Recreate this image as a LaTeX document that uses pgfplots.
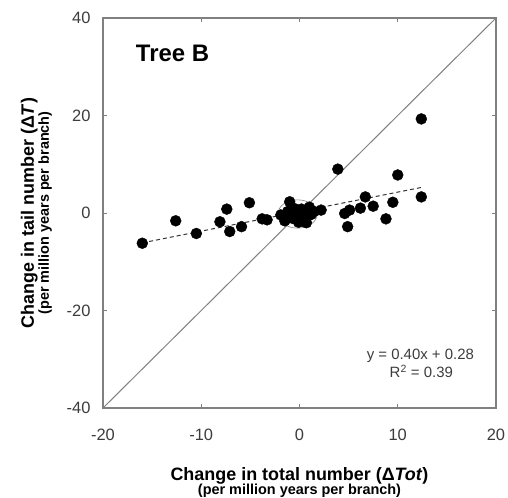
\documentclass[border=0pt]{standalone}
\usepackage{fontspec}
\setmainfont{Liberation Sans}
\usepackage{pgfplots}
\pgfplotsset{compat=1.18}
\definecolor{axgray}{RGB}{128,128,128}
\definecolor{txtgray}{RGB}{60,60,60}

\begin{document}
\begin{tikzpicture}
\useasboundingbox (-103bp,-90bp) rectangle (405bp,408bp);
\begin{axis}[
  scale only axis, width=393bp, height=390bp,
  xmin=-20, xmax=20, ymin=-40, ymax=40,
  xtick={-20,-10,0,10,20}, ytick={-40,-20,0,20,40},
  tick align=inside, major tick length=4bp,
  axis line style={axgray, line width=1.3pt},
  tick style={axgray, line width=0.8pt},
  /pgf/number format/assume math mode=true,
  ticklabel style={font=\fontsize{16.5}{16.5}\selectfont, text=txtgray},
  xticklabel style={anchor=base, yshift=-32bp},
  yticklabel style={xshift=-9bp},
  clip=false,
]
\addplot[axgray, line width=1pt] coordinates {(-20,-40) (20,40)};
\addplot[black!80, line width=1pt, dash pattern=on 4bp off 3bp] coordinates {(-16,-6.12) (12.5,5.28)};
\addplot[only marks, mark=*, mark size=5.5pt, mark options={fill=black, draw=black}] coordinates {
(-16.0,-6.2) (-12.6,-1.6) (-10.5,-4.2) (-8.1,-1.8) (-7.4,0.8) (-7.1,-3.8)
(-5.9,-2.8) (-5.1,2.1) (-3.8,-1.2) (-3.3,-1.4) (-1.0,2.3)
(-1.9,-0.4) (-1.5,-1.6) (-1.2,0.3) (-0.7,-1.1) (-0.4,-0.3) (-0.1,-1.9)
(0.2,0.8) (0.4,-0.6) (0.7,-2.0) (0.9,0.5) (1.2,-0.3) (1.5,0.3) (-0.5,0.9)
(0.1,-1.0) (1.0,1.2)
(2.2,0.6) (3.9,9.0) (4.6,-0.1) (4.9,-2.8) (5.1,0.6) (6.2,1.0) (6.7,3.3)
(7.5,1.4) (8.8,-1.2) (9.5,2.2) (10.0,7.8) (12.4,3.3) (12.4,19.3)
};
\draw[axgray, line width=0.6pt] (axis cs:-0.2,-0.2) ellipse [x radius=2.0, y radius=2.9];
\node[anchor=base west, font=\bfseries\fontsize{24}{24}\selectfont] at (axis cs:-17.0,31.1) {Tree B};
\node[anchor=base, font=\fontsize{15}{15}\selectfont, text=txtgray] at (axis cs:12.3,-30.0) {y = 0.40x + 0.28};
\node[anchor=base, font=\fontsize{15}{15}\selectfont, text=txtgray] at (axis cs:12.4,-33.8) {R\textsuperscript{2} = 0.39};
% axis titles
\node[anchor=base, font=\bfseries\fontsize{18}{18}\selectfont] at ([yshift=-72bp]axis description cs:0.5,0) {Change in total number (Δ\textit{Tot})};
\node[anchor=base, font=\bfseries\fontsize{14.5}{14.5}\selectfont] at ([yshift=-86bp]axis description cs:0.5,0) {(per million years per branch)};
\node[anchor=base, rotate=90, font=\bfseries\fontsize{18}{18}\selectfont] at ([xshift=-69bp]axis description cs:0,0.5) {Change in tail number (Δ\textit{T})};
\node[anchor=base, rotate=90, font=\bfseries\fontsize{14.5}{14.5}\selectfont] at ([xshift=-54bp]axis description cs:0,0.5) {(per million years per branch)};
\end{axis}
\end{tikzpicture}
\end{document}
